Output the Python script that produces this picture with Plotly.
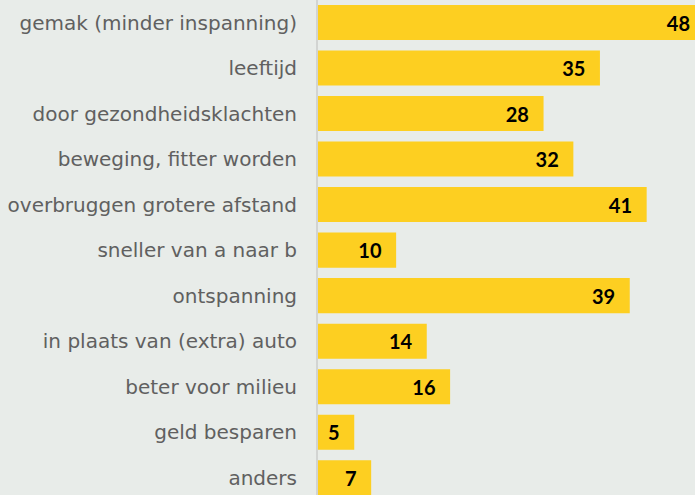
import plotly.graph_objects as go

# redenen (van boven naar beneden)
categories = [
    "gemak (minder inspanning)",
    "leeftijd",
    "door gezondheidsklachten",
    "beweging, fitter worden",
    "overbruggen grotere afstand",
    "sneller van a naar b",
    "ontspanning",
    "in plaats van (extra) auto",
    "beter voor milieu",
    "geld besparen",
    "anders",
]
values = [48.0, 35.0, 28.0, 31.7, 40.8, 9.7, 38.7, 13.5, 16.4, 4.5, 6.6]
value_labels = ["48", "35", "28", "32", "41", "10", "39", "14", "16", "5", "7"]

BG = "#e8ece9"
YELLOW = "#fdcf21"

fig = go.Figure()

# balken met het label binnen het einde (figure space als extra marge rechts)
fig.add_trace(go.Bar(
    x=values,
    y=categories,
    orientation="h",
    width=0.77,
    marker=dict(color=YELLOW, line=dict(width=0)),
    text=value_labels,
    texttemplate="%{text}\u2007",
    textposition="inside",
    insidetextanchor="end",
    textangle=0,
    constraintext="none",
    insidetextfont=dict(family="Lato", size=20, color="#000000", weight="bold"),
    hoverinfo="x+y",
    showlegend=False,
))

fig.update_layout(
    width=695,
    height=495,
    margin=dict(l=318, r=0, t=0, b=0),
    paper_bgcolor=BG,
    plot_bgcolor=BG,
    bargap=0.23,
    uniformtext=dict(mode=False),
)

fig.update_xaxes(
    range=[0, 46.8],
    visible=False,
    showgrid=False,
    zeroline=False,
)

fig.update_yaxes(
    categoryorder="array",
    categoryarray=categories,
    range=[10.38, -0.495],
    showgrid=False,
    zeroline=False,
    showline=True,
    linecolor="#d2d4d2",
    linewidth=2,
    ticks="",
    ticklabelstandoff=15,
    tickfont=dict(family="DejaVu Sans", size=20, color="#606060"),
    automargin=False,
)

# pagina zonder witrand, zodat de figuur precies in het venster past
fig.write_html(
    "out.html",
    config={"displayModeBar": False},
    post_script="document.body.style.margin='0';",
)
